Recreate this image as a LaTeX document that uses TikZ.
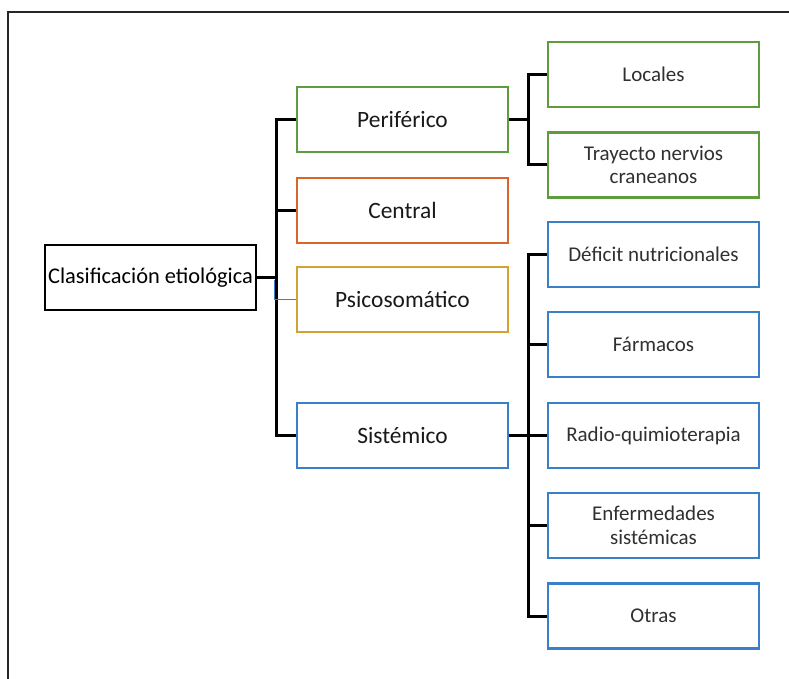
\documentclass[tikz,border=0pt]{standalone}
\usepackage{fontspec}
\setmainfont{Carlito}
\usepackage{xcolor}
\usetikzlibrary{positioning, calc}

\definecolor{verde}{HTML}{5E9C3E}
\definecolor{naranja}{HTML}{D9652B}
\definecolor{ocre}{HTML}{D4A233}
\definecolor{azul}{HTML}{3A80C8}
\definecolor{texto}{HTML}{303030}

\begin{document}
\begin{tikzpicture}[x=1pt, y=-1pt]
			\tikzstyle{raiz}=[draw=black, line width=2.8pt, minimum height=65pt, minimum width=211pt, fill=white, text=black, font=\fontsize{22.4}{26}\selectfont, inner sep=0pt]
			\tikzstyle{grupo}=[draw=black, line width=2.6pt, minimum height=65pt, minimum width=211pt, fill=white, text=black!90, font=\fontsize{23.4}{26}\selectfont, align=center]
			\tikzstyle{causa}=[draw=azul, line width=2.6pt, minimum height=65pt, minimum width=211pt, fill=white, text=texto, font=\fontsize{21}{23.5}\selectfont, align=center]
			\tikzstyle{rama}=[draw=black, line width=3pt]
			
			\useasboundingbox (0,0) rectangle (789,679);
			% marco exterior
			\draw [line width=1.4pt, black!85] (8,679) -- (8,12) -- (789,12);
			
			\node (clas) at (150.5,277.5) [raiz] {Clasificación etiológica};
			
			\node (perif) at (402.5,119.5) [grupo, draw=verde] {Periférico};
			\node (centr) at (402.5,210.5) [grupo, draw=naranja] {Central};
			\node (psico) at (402.5,299.5) [grupo, draw=ocre] {Psicosomático};
			\node (siste) at (402.5,435.5) [grupo, draw=azul] {Sistémico};
			
			\node (loc) at (653.5,74.5) [causa, draw=verde] {Locales};
			\node (tray) at (653.5,165) [causa, draw=verde] {Trayecto nervios\\craneanos};
			
			\node (defi) at (653.5,254.5) [causa] {Déficit nutricionales};
			\node (farm) at (653.5,344.5) [causa] {Fármacos};
			\node (radio) at (653.5,435.5) [causa] {Radio-quimioterapia};
			\node (enfer) at (653.5,525.5) [causa] {Enfermedades\\sistémicas};
			\node (otras) at (653.5,616) [causa] {Otras};
			
			% tronco principal
			\coordinate (t0) at (276,277.5);
			\draw [rama] (clas.east) -- (t0);
			\draw [rama] (t0) |- (perif.west);
			\draw [rama] (t0) |- (centr.west);
			\draw [rama] (t0) |- (siste.west);
			\draw [line width=1.3pt, azul] ($(t0)+(-1.8,2)$) |- (psico.west);
			
			% ramas secundarias
			\coordinate (t1) at (528,119.5);
			\draw [rama] (perif.east) -- (t1);
			\draw [rama] (t1) |- (loc.west);
			\draw [rama] (t1) |- (tray.west);
			
			\coordinate (t2) at (528,435.5);
			\draw [rama] (siste.east) -- (radio.west);
			\foreach \n in {defi, farm, enfer, otras}
				\draw [rama] (t2) |- (\n.west);
			
\end{tikzpicture}
\end{document}
